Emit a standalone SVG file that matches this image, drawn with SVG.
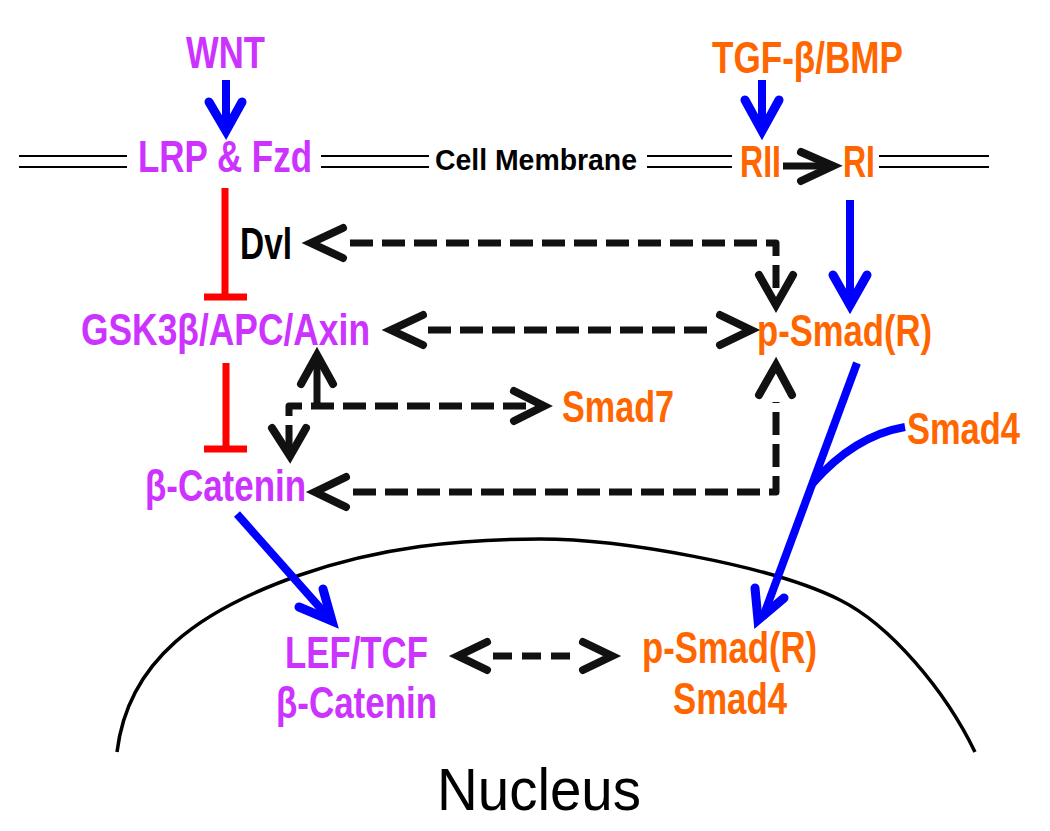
<svg xmlns="http://www.w3.org/2000/svg" width="1050" height="831" viewBox="0 0 1050 831">
<style>
.lbl{font-family:"Liberation Sans",Arial,sans-serif;font-weight:bold;font-size:44px;text-anchor:middle}
.pu{fill:#cc33ff}
.or{fill:#ff6600}
.bk{fill:#000}
.mem{stroke:#000;stroke-width:2;fill:none}
.blue{stroke:#0000ff;stroke-width:8;fill:none;stroke-linecap:butt}
.bhead{stroke:#0000ff;stroke-width:9;fill:none;stroke-linecap:round;stroke-linejoin:miter;stroke-miterlimit:10}
.red{stroke:#ff0000;stroke-width:7;fill:none}
.dash{stroke:#111;stroke-width:7;fill:none;stroke-dasharray:23 9;stroke-linejoin:round}
.khead{stroke:#111;stroke-width:8;fill:none;stroke-linecap:round;stroke-linejoin:miter;stroke-miterlimit:10}
.solidk{stroke:#111;stroke-width:7;fill:none}
</style>
<rect width="1050" height="831" fill="#fff"/>
<g id="membrane">
<path class="mem" d="M19,156H127M19,167H127M321,156H429M321,167H429M647,156H732M647,167H732M879,156H989M879,167H989"/>
<text x="536" y="170" font-family="Liberation Sans,Arial,sans-serif" font-weight="bold" font-size="29" text-anchor="middle" textLength="202" lengthAdjust="spacingAndGlyphs">Cell Membrane</text>
</g>
<g id="nucleus">
<path d="M117,752 C128,660 200,610 300,575 C380,547 460,539 540,539 C620,539 770,565 840,600 C890,625 945,690 975,752" stroke="#000" stroke-width="3.5" fill="none"/>
<text x="539" y="810" font-family="Liberation Sans,Arial,sans-serif" font-size="60" text-anchor="middle" textLength="204" lengthAdjust="spacingAndGlyphs">Nucleus</text>
</g>
<g id="connectors">
<path class="blue" d="M226,80V128"/>
<path class="bhead" d="M209,102L226,131L242,102"/>
<path class="blue" d="M762,80V128"/>
<path class="bhead" d="M745,100L762,131L779,100"/>
<path class="solidk" d="M783,166H830"/>
<path class="khead" d="M801,152L833,166L801,181"/>
<path class="blue" d="M850,200V302"/>
<path class="bhead" d="M833,275L850,305L867,275"/>
<path class="red" d="M225,188V297M204,297H247"/>
<path class="red" d="M226,363V449M204,449H247"/>
<path class="dash" d="M350,243H776V296"/>
<path class="khead" d="M343,228L311,243L343,258"/>
<path class="khead" d="M759,275L776,305L793,275"/>
<path class="dash" d="M428,330H714"/>
<path class="khead" d="M423,315L391,330L423,345"/>
<path class="khead" d="M720,315L751,330L720,345"/>
<path class="solidk" d="M317,358V406"/>
<path class="khead" d="M301,384L317,355L333,384"/>
<path class="dash" d="M289,448V406H538"/>
<path class="khead" d="M514,391L544,406L514,421"/>
<path class="khead" d="M272,428L290,456L306,428"/>
<path class="dash" d="M353,492H776V402"/>
<path class="khead" d="M346,477L315,492L346,507"/>
<path class="khead" d="M759,395L776,365L792,395"/>
<path class="blue" d="M237,514L330,619"/>
<path class="bhead" d="M299,607L332,621L323,589"/>
<path class="blue" d="M857,363L763,617"/>
<path class="bhead" d="M755,588L758,620L784,598"/>
<path class="blue" d="M905,427C870,433 840,452 812,484"/>
<path class="dash" d="M493,656H580" style="stroke-dasharray:19 10"/>
<path class="khead" d="M487,642L458,656L487,670"/>
<path class="khead" d="M583,642L612,656L583,670"/>
</g>
<g id="WNT"><text class="lbl pu" x="225.5" y="68" font-size="45" textLength="79" lengthAdjust="spacingAndGlyphs">WNT</text></g>
<g id="TGF"><text class="lbl or" x="807.5" y="73" textLength="191" lengthAdjust="spacingAndGlyphs">TGF-β/BMP</text></g>
<g id="LRP"><text class="lbl pu" x="225" y="172" textLength="174" lengthAdjust="spacingAndGlyphs">LRP &amp; Fzd</text></g>
<g id="RII"><text class="lbl or" x="760.5" y="177" textLength="41" lengthAdjust="spacingAndGlyphs">RII</text></g>
<g id="RI"><text class="lbl or" x="859" y="177" textLength="32" lengthAdjust="spacingAndGlyphs">RI</text></g>
<g id="Dvl"><text class="lbl bk" x="266" y="259" textLength="52" lengthAdjust="spacingAndGlyphs">Dvl</text></g>
<g id="GSK"><text class="lbl pu" x="225.5" y="345" font-size="45" textLength="289" lengthAdjust="spacingAndGlyphs">GSK3β/APC/Axin</text></g>
<g id="pSmad"><text class="lbl or" x="844.5" y="346" font-size="45" textLength="175" lengthAdjust="spacingAndGlyphs">p-Smad(R)</text></g>
<g id="Smad7"><text class="lbl or" x="618" y="422" textLength="112" lengthAdjust="spacingAndGlyphs">Smad7</text></g>
<g id="Smad4"><text class="lbl or" x="963.5" y="444" textLength="113" lengthAdjust="spacingAndGlyphs">Smad4</text></g>
<g id="bCat"><text class="lbl pu" x="225.5" y="501" font-size="42" textLength="161" lengthAdjust="spacingAndGlyphs">β-Catenin</text></g>
<g id="LEF">
<text class="lbl pu" x="356.5" y="668" textLength="143" lengthAdjust="spacingAndGlyphs">LEF/TCF</text>
<text class="lbl pu" x="356.5" y="718" font-size="38" textLength="161" lengthAdjust="spacingAndGlyphs">β-Catenin</text>
</g>
<g id="nucSmad">
<text class="lbl or" x="729.5" y="663" font-size="38" textLength="175" lengthAdjust="spacingAndGlyphs">p-Smad(R)</text>
<text class="lbl or" x="730" y="714" font-size="41" textLength="114" lengthAdjust="spacingAndGlyphs">Smad4</text>
</g>
</svg>
